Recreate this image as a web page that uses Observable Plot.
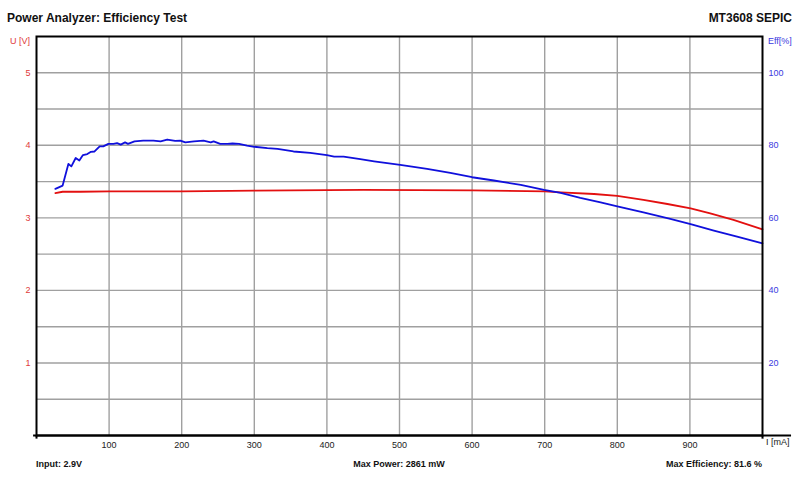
<!DOCTYPE html>
<html>
<head>
<meta charset="utf-8">
<script src="https://cdn.jsdelivr.net/npm/d3@7"></script>
<script src="https://cdn.jsdelivr.net/npm/@observablehq/plot@0.6"></script>
<style>
  body { margin: 0; background: #fff; font-family: "Liberation Sans", Arial, sans-serif; }
  #wrap { position: relative; width: 800px; height: 480px; overflow: hidden; }
  .t { position: absolute; white-space: nowrap; line-height: 1; }
  .title { font-size: 12px; font-weight: bold; color: #111; }
  .foot { font-size: 9px; font-weight: bold; color: #111; }
  .lab { font-size: 9px; }
</style>
</head>
<body>
<div id="wrap"></div>
<script>
// ---- data ----
const voltCurrent = [26, 36, 60, 100, 200, 300, 450, 600, 700, 722, 768, 800, 836, 869, 901, 928, 960, 1000];
const voltValues  = [3.34, 3.36, 3.36, 3.365, 3.365, 3.375, 3.385, 3.38, 3.365, 3.351, 3.329, 3.302, 3.247, 3.191, 3.131, 3.062, 2.971, 2.842];

const effCurrent = [26, 36, 44, 48, 54, 59, 64, 70, 75, 80, 87, 92, 99, 106, 111, 116, 122, 126, 135, 147, 161, 171, 180, 191, 198, 205, 217, 230, 240, 244, 253, 263, 270, 279, 290, 300, 318, 332, 354, 377, 400, 410, 423, 446, 465, 501, 538, 570, 600, 630, 667, 699, 722, 749, 777, 800, 836, 873, 901, 933, 965, 1000];
const effValues  = [68.0, 68.9, 74.9, 74.2, 76.5, 75.8, 77.3, 77.6, 78.2, 78.3, 79.7, 79.7, 80.4, 80.4, 80.6, 80.2, 80.8, 80.4, 81.1, 81.3, 81.3, 81.1, 81.6, 81.2, 81.3, 80.8, 81.1, 81.3, 80.8, 81.1, 80.4, 80.4, 80.5, 80.4, 79.9, 79.6, 79.2, 79.0, 78.3, 77.9, 77.3, 76.9, 76.9, 76.2, 75.6, 74.6, 73.5, 72.4, 71.2, 70.3, 69.1, 67.7, 66.9, 65.5, 64.3, 63.2, 61.5, 59.7, 58.3, 56.5, 54.8, 53.0];

const xTicks = [100, 200, 300, 400, 500, 600, 700, 800, 900];
const yTicks = [1, 2, 3, 4, 5];
const yGrid  = [0.5, 1, 1.5, 2, 2.5, 3, 3.5, 4, 4.5, 5];
const effPerVolt = 20; // right axis: 5 V <-> 100 %

const title = "Power Analyzer: Efficiency Test";
const device = "MT3608 SEPIC";
const footLeft = "Input: 2.9V";
const footMid = "Max Power: 2861 mW";
const footRight = "Max Efficiency: 81.6 %";

const volt = voltCurrent.map((c, i) => ({c, v: voltValues[i]}));
const eff = effCurrent.map((c, i) => ({c, e: effValues[i]}));

const RED = "#e31010", BLUE = "#1010dc";
const font = "Liberation Sans, Arial, sans-serif";

const chart = Plot.plot({
  width: 800, height: 480,
  marginTop: 36, marginLeft: 36, marginRight: 38, marginBottom: 45,
  style: {fontFamily: font, fontSize: "9px", background: "#fff"},
  x: {domain: [0, 1000]},
  y: {domain: [0, 5.5]},
  marks: [
    Plot.ruleX(xTicks, {stroke: "#a0a0a0", strokeWidth: 1.4}),
    Plot.ruleY(yGrid, {stroke: "#a0a0a0", strokeWidth: 1.4}),
    Plot.line(volt, {x: "c", y: "v", stroke: RED, strokeWidth: 1.8}),
    Plot.line(eff, {x: "c", y: d => d.e / effPerVolt, stroke: BLUE, strokeWidth: 1.8}),
    Plot.frame({stroke: "#000", strokeWidth: 2}),
    Plot.ruleY([0], {x1: -4, x2: 1040, stroke: "#000", strokeWidth: 2}),
    Plot.ruleX([0, 1000], {y1: 0, y2: -0.05, stroke: "#000", strokeWidth: 2}),
    Plot.axisX({ticks: xTicks, tickSize: 0, tickPadding: 6, label: null, fill: "#222", tickFormat: d => String(d)}),
    Plot.axisY({anchor: "left", ticks: yTicks, tickSize: 0, tickPadding: 6, label: null, fill: "#e03a3a",
      tickFormat: d => String(d)}),
    Plot.axisY({anchor: "right", ticks: yTicks, tickSize: 0, tickPadding: 6, label: null, fill: "#3a3ae0",
      tickFormat: d => String(d * effPerVolt)})
  ]
});

const wrap = document.getElementById("wrap");
wrap.appendChild(chart);
chart.style.position = "absolute";
chart.style.left = "0px";
chart.style.top = "0px";

function addText(txt, cls, style) {
  const d = document.createElement("div");
  d.className = "t " + cls;
  d.textContent = txt;
  Object.assign(d.style, style);
  wrap.appendChild(d);
}
addText(title, "title", {left: "7px", top: "12px"});
addText(device, "title", {right: "8px", top: "12px"});
addText("U [V]", "lab", {right: "770px", top: "36.5px", color: "#e03a3a"});
addText("Eff[%]", "lab", {left: "768px", top: "36.5px", color: "#3a3ae0"});
addText("I [mA]", "lab", {left: "766px", top: "437.5px", color: "#222"});
addText(footLeft, "foot", {left: "36px", top: "459.5px"});
addText(footMid, "foot", {left: "399px", top: "459.5px", transform: "translateX(-50%)"});
addText(footRight, "foot", {right: "38px", top: "459.5px"});
</script>
</body>
</html>
